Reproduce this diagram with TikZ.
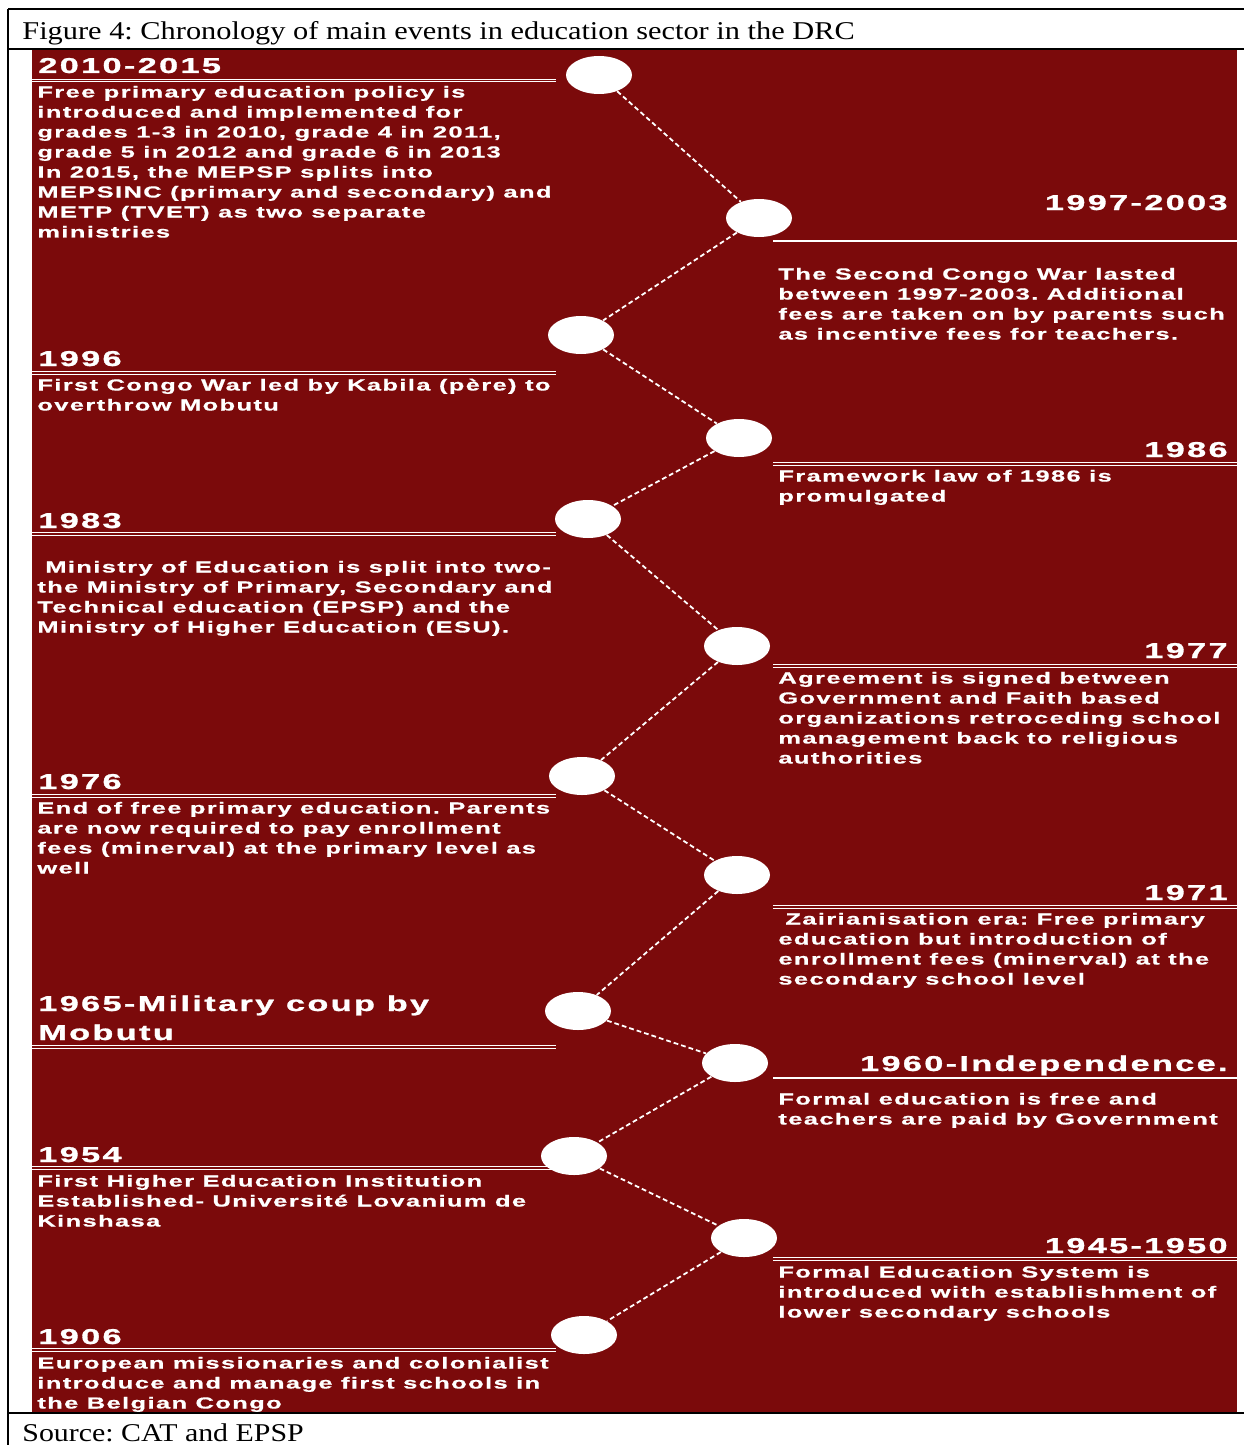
\documentclass[tikz,border=0pt]{standalone}
\usepackage{graphicx}
\usepackage{fontspec}
\setmainfont{Liberation Serif}
\newfontfamily\titlefont{Liberation Serif}
\newfontfamily\evfont[LetterSpace=5.5,FakeBold=0.6]{Liberation Sans}
\newfontfamily\hdfont[LetterSpace=7,FakeBold=1]{Liberation Sans}
\usetikzlibrary{shapes.geometric}
\definecolor{drcred}{RGB}{123,10,11}
\newcommand\stack[1]{\vtop{\halign{##\hfil\cr#1\crcr}}}
\newcommand\stretchx[1]{\scalebox{1.59}[1]{#1}}
\frenchspacing
\begin{document}
\begin{tikzpicture}[x=0.5pt,y=-0.5pt,
  frame/.style={line width=1pt, draw=black},
  dot/.style={ellipse, fill=white, minimum width=33pt, minimum height=19pt, inner sep=0pt},
  conn/.style={draw=white, line width=0.9pt, dash pattern=on 2.4pt off 1.5pt},
  body/.style={anchor=base west, inner sep=0pt, text=white, font=\evfont\bfseries\fontsize{8}{10}\selectfont},
  headl/.style={anchor=base west, inner sep=0pt, text=white, font=\hdfont\bfseries\fontsize{10.75}{14.5}\selectfont},
  headr/.style={headl, anchor=base east},
  dblrule/.style={draw=white, line width=0.5pt, double=drcred, double distance=0.6pt},
  sglrule/.style={draw=white, line width=1pt},
  caption/.style={anchor=base west, inner sep=0pt, font=\titlefont\fontsize{12.8}{15}\selectfont}]
\useasboundingbox (0,0) rectangle (1244,1445);
\fill[white] (0,0) rectangle (1244,1445);
\fill[drcred] (32,50) rectangle (1237,1412);
\draw[frame] (8,9) -- (1244,9);
\draw[frame] (8,49) -- (1244,49);
\draw[frame] (8,1413) -- (1244,1413);
\draw[frame] (8,9) -- (8,1445);

\node[caption] (title) at (22,40) {\scalebox{1.186}[1]{Figure 4: Chronology of main events in education sector in the DRC}};
\node[caption] (source) at (22,1441) {\scalebox{1.167}[1]{Source: CAT and EPSP}};

% rules
\draw[dblrule] (32,80.7) -- (556,80.7);
\draw[dblrule] (32,373) -- (556,373);
\draw[dblrule] (32,534) -- (556,534);
\draw[dblrule] (32,796) -- (556,796);
\draw[dblrule] (32,1047) -- (556,1047);
\draw[dblrule] (32,1168) -- (556,1168);
\draw[dblrule] (32,1350) -- (556,1350);
\draw[sglrule] (773,241) -- (1237,241);
\draw[dblrule] (773,464) -- (1237,464);
\draw[dblrule] (773,666) -- (1237,666);
\draw[dblrule] (773,907) -- (1237,907);
\draw[sglrule] (773,1078) -- (1237,1078);
\draw[dblrule] (773,1259) -- (1237,1259);

% left events
\node[headl] (h2010) at (38,73) {\stretchx{2010-2015}};
\node[body] (b2010) at (37,97.5) {\stretchx{\stack{Free primary education policy is\cr
introduced and implemented for\cr
grades 1-3 in 2010, grade 4 in 2011,\cr
grade 5 in 2012 and grade 6 in 2013\cr
In 2015, the MEPSP splits into\cr
MEPSINC (primary and secondary) and\cr
METP (TVET) as two separate\cr
ministries}}};
\node[headl] (h1996) at (38,366) {\stretchx{1996}};
\node[body] (b1996) at (37,390.5) {\stretchx{\stack{First Congo War led by Kabila (père) to\cr
overthrow Mobutu}}};
\node[headl] (h1983) at (38,528) {\stretchx{1983}};
\node[body] (b1983) at (37,572.5) {\stretchx{\stack{\kern2.5pt Ministry of Education is split into two-\cr
the Ministry of Primary, Secondary and\cr
Technical education (EPSP) and the\cr
Ministry of Higher Education (ESU).}}};
\node[headl] (h1976) at (38,789) {\stretchx{1976}};
\node[body] (b1976) at (37,813.5) {\stretchx{\stack{End of free primary education. Parents\cr
are now required to pay enrollment\cr
fees (minerval) at the primary level as\cr
well}}};
\node[headl] (h1965) at (38,1011) {\stretchx{\stack{1965-Military coup by\cr Mobutu}}};
\node[headl] (h1954) at (38,1162) {\stretchx{1954}};
\node[body] (b1954) at (37,1186.5) {\stretchx{\stack{First Higher Education Institution\cr
Established- Université Lovanium de\cr
Kinshasa}}};
\node[headl] (h1906) at (38,1344) {\stretchx{1906}};
\node[body] (b1906) at (37,1368.5) {\stretchx{\stack{European missionaries and colonialist\cr
introduce and manage first schools in\cr
the Belgian Congo}}};

% right events
\node[headr] (h1997) at (1228,210) {\stretchx{1997-2003}};
\node[body] (b1997) at (778,279.5) {\stretchx{\stack{The Second Congo War lasted\cr
between 1997-2003. Additional\cr
fees are taken on by parents such\cr
as incentive fees for teachers.}}};
\node[headr] (h1986) at (1228,457) {\stretchx{1986}};
\node[body] (b1986) at (778,481.5) {\stretchx{\stack{Framework law of 1986 is\cr
promulgated}}};
\node[headr] (h1977) at (1228,658) {\stretchx{1977}};
\node[body] (b1977) at (778,683.5) {\stretchx{\stack{Agreement is signed between\cr
Government and Faith based\cr
organizations retroceding school\cr
management back to religious\cr
authorities}}};
\node[headr] (h1971) at (1228,900) {\stretchx{1971}};
\node[body] (b1971) at (778,924.5) {\stretchx{\stack{\kern2.2pt Zairianisation era: Free primary\cr
education but introduction of\cr
enrollment fees (minerval) at the\cr
secondary school level}}};
\node[headr] (h1960) at (1228,1071) {\stretchx{1960-Independence.}};
\node[body] (b1960) at (778,1104.5) {\stretchx{\stack{Formal education is free and\cr
teachers are paid by Government}}};
\node[headr] (h1945) at (1228,1253) {\stretchx{1945-1950}};
\node[body] (b1945) at (778,1277.5) {\stretchx{\stack{Formal Education System is\cr
introduced with establishment of\cr
lower secondary schools}}};

% timeline dots
\node[dot] (e1) at (599,75) {};
\node[dot] (e2) at (759,218) {};
\node[dot] (e3) at (581,335) {};
\node[dot] (e4) at (739,438) {};
\node[dot] (e5) at (588,519) {};
\node[dot] (e6) at (737,646) {};
\node[dot] (e7) at (582,776) {};
\node[dot] (e8) at (737,875) {};
\node[dot] (e9) at (578,1011) {};
\node[dot] (e10) at (735,1063) {};
\node[dot] (e11) at (574,1156) {};
\node[dot] (e12) at (744,1238) {};
\node[dot] (e13) at (584,1335) {};

\draw[conn] (e1) -- (e2);
\draw[conn] (e2) -- (e3);
\draw[conn] (e3) -- (e4);
\draw[conn] (e4) -- (e5);
\draw[conn] (e5) -- (e6);
\draw[conn] (e6) -- (e7);
\draw[conn] (e7) -- (e8);
\draw[conn] (e8) -- (e9);
\draw[conn] (e9) -- (e10);
\draw[conn] (e10) -- (e11);
\draw[conn] (e11) -- (e12);
\draw[conn] (e12) -- (e13);
\end{tikzpicture}
\end{document}
